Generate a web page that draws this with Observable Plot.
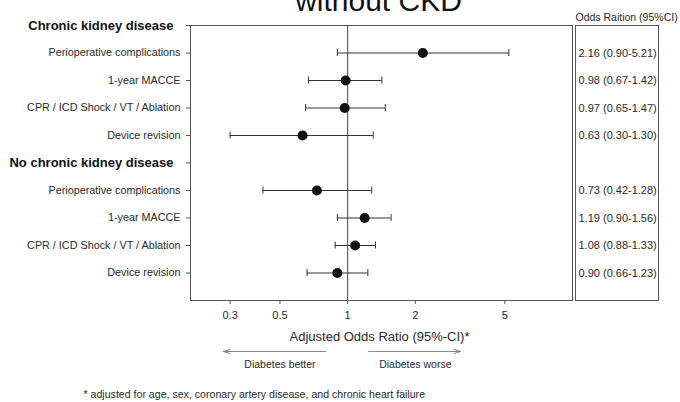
<!DOCTYPE html>
<html><head><meta charset="utf-8">
<script src="https://cdn.jsdelivr.net/npm/d3@7"></script>
<script src="https://cdn.jsdelivr.net/npm/@observablehq/plot@0.6"></script>
<style>html,body{margin:0;padding:0;background:#fff;} svg{display:block;}</style>
</head><body><div id="chart"></div>
<script>
const rowLabels = ["Chronic kidney disease", "Perioperative complications", "1-year MACCE", "CPR / ICD Shock / VT / Ablation", "Device revision",
                   "No chronic kidney disease", "Perioperative complications", "1-year MACCE", "CPR / ICD Shock / VT / Ablation", "Device revision"];
const headerRows = [0, 5];
const itemRows = [1, 2, 3, 4, 6, 7, 8, 9];
const oddsRatio = [2.16, 0.98, 0.97, 0.63, 0.73, 1.19, 1.08, 0.90];
const ciLow  = [0.90, 0.67, 0.65, 0.30, 0.42, 0.90, 0.88, 0.66];
const ciHigh = [5.21, 1.42, 1.47, 1.30, 1.28, 1.56, 1.33, 1.23];
const xTicks = [0.3, 0.5, 1, 2, 5];
const xDomain = [0.2, 10];
const yMax = 10;
const titleText = "without CKD";
const tableTitle = "Odds Raition (95%CI)";
const axisTitle = "Adjusted Odds Ratio (95%-CI)*";
const directionLabels = ["Diabetes better", "Diabetes worse"];
const directionCenters = [0.5, 2];
const arrowFrom = [0.8, 1.24];
const arrowTo = [0.28, 3.18];
const footnote = "* adjusted for age, sex, coronary artery disease, and chronic heart failure";

const data = itemRows.map((row, i) => ({row, or: oddsRatio[i], lo: ciLow[i], hi: ciHigh[i],
  label: `${oddsRatio[i].toFixed(2)} (${ciLow[i].toFixed(2)}-${ciHigh[i].toFixed(2)})`}));
const caps = data.flatMap(d => [{row: d.row, x: d.lo}, {row: d.row, x: d.hi}]);
const arrows = arrowFrom.map((a, i) => ({x1: a, x2: arrowTo[i], y: yMax}));
const dirs = directionLabels.map((t, i) => ({t, x: directionCenters[i], y: yMax}));

const chart = Plot.plot({
  width: 680, height: 402,
  marginLeft: 190, marginRight: 108, marginTop: 25, marginBottom: 102,
  style: {fontFamily: "'Liberation Sans', Arial, sans-serif", color: "#2a2a2a", background: "#fff"},
  x: {type: "log", domain: xDomain},
  y: {domain: [0, yMax], reverse: true},
  marks: [
    Plot.frame({stroke: "#555"}),
    Plot.frame({stroke: "#555", insetLeft: 385, insetRight: -86}),
    Plot.ruleX([1], {stroke: "#444"}),
    Plot.axisX({ticks: xTicks, tickFormat: d => String(d), tickSize: 4, tickPadding: 7, fontSize: 11, label: null, stroke: "#555"}),
    Plot.axisY({ticks: itemRows, tickFormat: i => rowLabels[i], tickSize: 4, tickPadding: 6, fontSize: 10.8, label: null, stroke: "#555"}),
    Plot.axisY({ticks: headerRows, tickFormat: i => rowLabels[i], tickSize: 4, tickPadding: 13, fontSize: 13, fontWeight: "bold", label: null, stroke: "#555", fill: "#111"}),
    Plot.ruleY(data, {y: "row", x1: "lo", x2: "hi", stroke: "#333"}),
    Plot.ruleX(caps, {x: "x", y1: "row", y2: "row", insetTop: -3.5, insetBottom: -3.5, stroke: "#333"}),
    Plot.dot(data, {x: "or", y: "row", r: 5, fill: "#111", stroke: null}),
    Plot.text(data, {y: "row", text: "label", frameAnchor: "right", textAnchor: "start", dx: 6, fontSize: 11}),
    Plot.text([tableTitle], {frameAnchor: "top-right", textAnchor: "start", dx: 3, dy: -12, fontSize: 10.5}),
    Plot.text([titleText], {frameAnchor: "top", dx: -3, dy: -36, fontSize: 30, fill: "#111"}),
    Plot.text([axisTitle], {frameAnchor: "bottom", dx: -2, dy: 40, fontSize: 13}),
    Plot.arrow(arrows, {x1: "x1", x2: "x2", y1: "y", y2: "y", dy: 51, stroke: "#888", strokeWidth: 1, headAngle: 35, headLength: 10}),
    Plot.text(dirs, {x: "x", y: "y", text: "t", dy: 64, fontSize: 10.5}),
    Plot.text([footnote], {frameAnchor: "bottom-left", textAnchor: "start", dx: -107, dy: 97, fontSize: 10.6})
  ]
});
document.getElementById("chart").appendChild(chart);
</script>
</body></html>
